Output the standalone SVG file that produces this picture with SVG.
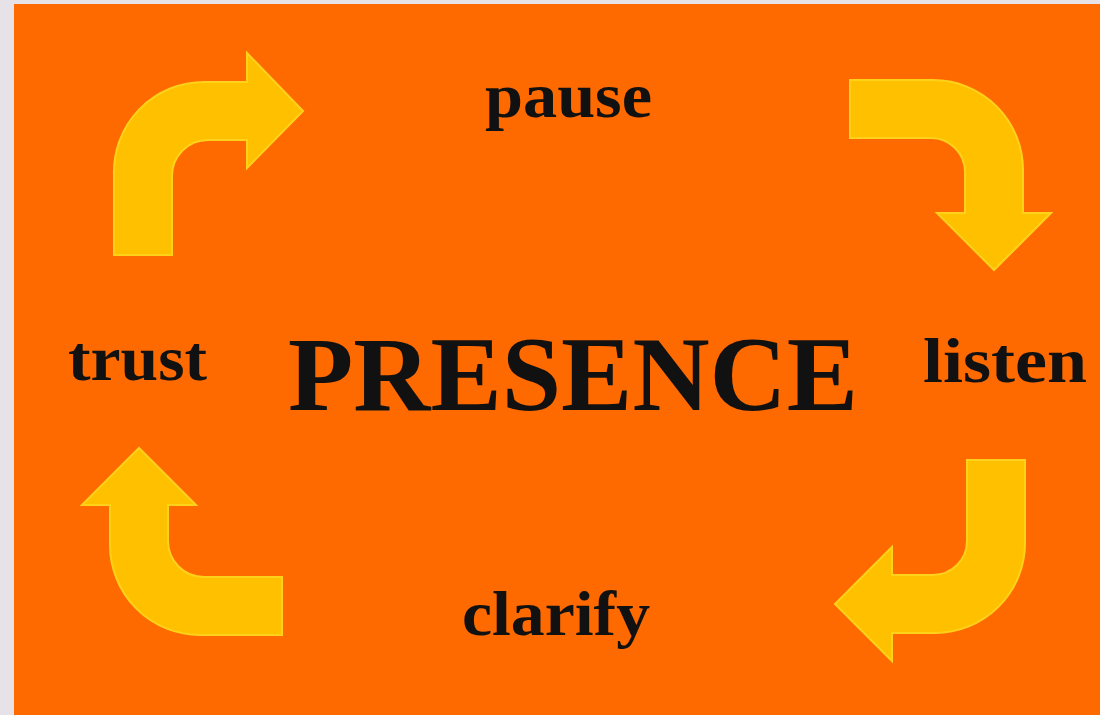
<svg xmlns="http://www.w3.org/2000/svg" width="1100" height="715" viewBox="0 0 1100 715">
  <style>
    .arrow { fill: #FFC000; stroke: #FFD21A; stroke-width: 2; stroke-linejoin: miter; }
    .lbl { font-family: "Liberation Serif", "DejaVu Serif", serif; font-weight: bold; fill: #111; }
  </style>
  <rect x="0" y="0" width="1100" height="715" fill="#E6E2E8"/>
  <rect x="14" y="4" width="1086" height="711" fill="#FF6A00"/>
  <g id="connectors">
    <path id="arrow-trust-pause" class="arrow" d="M114,255 L114,175 A90,90 0 0 1 204,82 L247,82 L247,53 L303,111 L247,168 L247,140 L208,140 A36,36 0 0 0 172,176 L172,255 Z"/>
    <path id="arrow-pause-listen" class="arrow" d="M850,80 L933,80 A90,90 0 0 1 1023,170 L1023,213 L1051,213 L994,270 L937,213 L965,213 L965,172 A34,34 0 0 0 931,138 L850,138 Z"/>
    <path id="arrow-listen-clarify" class="arrow" d="M967,460 L1025,460 L1025,543 A90,90 0 0 1 935,633 L892,633 L892,661 L835,604 L892,547 L892,575 L933,575 A34,34 0 0 0 967,541 Z"/>
    <path id="arrow-clarify-trust" class="arrow" d="M282,577 L204,577 A36,36 0 0 1 168,541 L168,505 L196,505 L139,448 L82,505 L110,505 L110,545 A90,90 0 0 0 200,635 L282,635 Z"/>
  </g>
  <g id="node-presence">
    <text class="lbl" x="288" y="410" font-size="106" textLength="570" lengthAdjust="spacingAndGlyphs">PRESENCE</text>
  </g>
  <g id="node-pause">
    <text class="lbl" x="485" y="117" font-size="63" textLength="167" lengthAdjust="spacingAndGlyphs">pause</text>
  </g>
  <g id="node-listen">
    <text class="lbl" x="923" y="382" font-size="63" textLength="164" lengthAdjust="spacingAndGlyphs">listen</text>
  </g>
  <g id="node-clarify">
    <text class="lbl" x="462" y="635" font-size="63" textLength="188" lengthAdjust="spacingAndGlyphs">clarify</text>
  </g>
  <g id="node-trust">
    <text class="lbl" x="68" y="380" font-size="63" textLength="139" lengthAdjust="spacingAndGlyphs">trust</text>
  </g>
</svg>
